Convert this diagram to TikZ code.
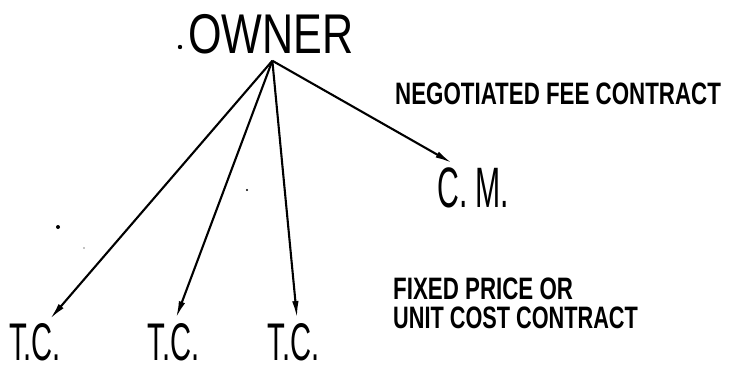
\documentclass[tikz,border=0pt]{standalone}
\usepackage{fontspec}
\setmainfont{Liberation Sans}
\usetikzlibrary{arrows.meta}
\begin{document}
\begin{tikzpicture}[x=1pt,y=-1pt,
  lbl/.style={inner sep=0pt, text=black},
  big/.style={font=\fontsize{57}{57}\selectfont},
  tcfont/.style={font=\fontsize{53}{53}\selectfont},
  small/.style={font=\fontsize{31}{29}\selectfont\bfseries},
  conn/.style={line width=2.1pt, -{Latex[length=17pt,width=6.5pt]}},
  speck/.style={fill=black}]
\useasboundingbox (0,0) rectangle (742,373);
% owner
\node[lbl, anchor=base west, font=\fontsize{56}{56}\selectfont] (owner) at (188,53) {\scalebox{0.77}[1]{OWNER}};
\fill[speck] (180,47) circle (2.2pt);
\coordinate (apex) at ([xshift=1.5pt,yshift=-7pt]owner.south);
% recipients
\node[lbl, tcfont, anchor=north] (tc1) at (35,323) {\scalebox{0.55}[1]{T.C.}};
\node[lbl, tcfont, anchor=north] (tc2) at (173.5,323) {\scalebox{0.55}[1]{T.C.}};
\node[lbl, tcfont, anchor=north] (tc3) at (293.5,323) {\scalebox{0.55}[1]{T.C.}};
\node[lbl, big, anchor=north west] (cm) at (437,167) {\scalebox{0.53}[1]{C. M.}};
% notes
\node[lbl, small, anchor=north west] (nego) at (395,83) {\scalebox{0.72}[1]{NEGOTIATED FEE CONTRACT}};
\node[lbl, small, anchor=north west, align=left] (fixed) at (393,278) {\scalebox{0.72}[1]{FIXED PRICE OR}\\\scalebox{0.70}[1]{UNIT COST CONTRACT}};
% connectors
\draw[conn] (apex) -- ([xshift=15pt,yshift=4pt]tc1.north);
\draw[conn] (apex) -- ([xshift=2.5pt,yshift=5pt]tc2.north);
\draw[conn] (apex) -- ([xshift=3.5pt,yshift=5pt]tc3.north);
\draw[conn] (apex) -- ([xshift=15pt,yshift=4pt]cm.north west);
% specks
\fill[speck] (58,227) circle (2pt);
\fill[speck] (247,190) circle (1.1pt);
\fill[speck] (84,248) circle (0.7pt);
\end{tikzpicture}
\end{document}
